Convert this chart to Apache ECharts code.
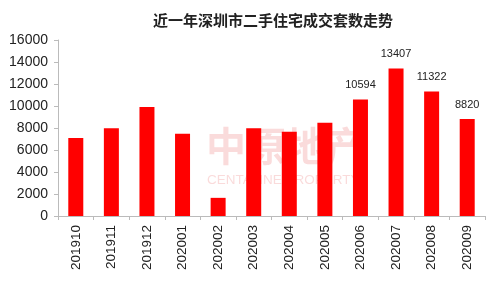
<!DOCTYPE html>
<html><head><meta charset="utf-8">
<script src="https://cdn.jsdelivr.net/npm/echarts@6/dist/echarts.min.js"></script>
<style>html,body{margin:0;padding:0;background:#fff}#c{width:500px;height:285px}</style>
</head><body><div id="c"></div>
<script>
const title = '近一年深圳市二手住宅成交套数走势';
const categories = ['201910','201911','201912','202001','202002','202003','202004','202005','202006','202007','202008','202009'];
const values = [7100, 7980, 9900, 7470, 1650, 7980, 7650, 8480, 10594, 13407, 11322, 8820];
const labeled = ['202006','202007','202008','202009'];

const chart = echarts.init(document.getElementById('c'), null, {renderer:'canvas'});
chart.setOption({
  animation:false,
  backgroundColor:'#fff',
  title:{text:title,left:268,textAlign:'center',top:8,textStyle:{fontFamily:'Noto Sans CJK SC',fontSize:15,fontWeight:'bold',color:'#222'}},
  graphic:[
    {type:'text',left:206,top:126,z:-1,style:{text:'中原地产',fontFamily:'Noto Sans CJK SC',fontSize:40,fontWeight:'bold',fill:'rgba(235,110,110,0.25)'}},
    {type:'text',left:207,top:173,z:-1,style:{text:'CENTALINE PROPERTY',fontFamily:'Liberation Sans',fontSize:13.5,fill:'rgba(235,110,110,0.25)'}}
  ],
  grid:{left:58,right:15,top:40,bottom:69,containLabel:false},
  xAxis:{type:'category',data:categories,
    axisLine:{lineStyle:{color:'#bbb',width:1}},
    axisTick:{show:true,alignWithLabel:false,length:4,lineStyle:{color:'#bbb'}},
    axisLabel:{rotate:90,fontFamily:'Liberation Sans',fontSize:13.5,color:'#222',margin:9}},
  yAxis:{type:'value',min:0,max:16000,interval:2000,
    axisLine:{show:true,lineStyle:{color:'#bbb'}},
    axisTick:{show:true,length:4,lineStyle:{color:'#bbb'}},
    splitLine:{show:false},
    axisLabel:{fontFamily:'Liberation Sans',fontSize:14,color:'#222',margin:10,formatter:v=>String(v)}},
  series:[{type:'bar',data:values,barWidth:15,itemStyle:{color:'#ff0000'},
    label:{show:true,position:'top',distance:9,fontFamily:'Liberation Sans',fontSize:11,color:'#222',
      formatter:p=>labeled.includes(p.name)?String(p.value):''}}]
});
</script></body></html>
